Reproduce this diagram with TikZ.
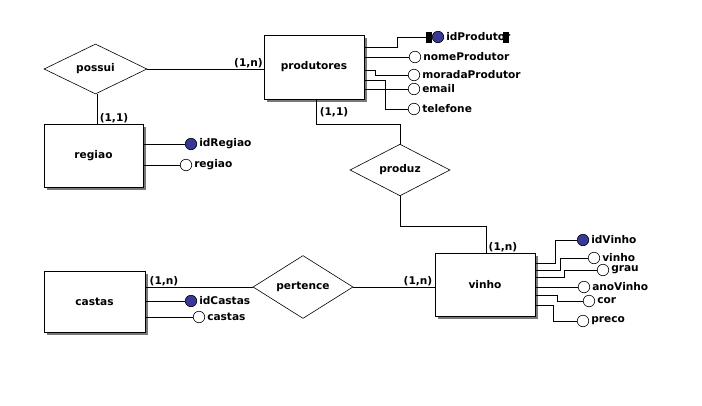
\documentclass[tikz,border=0pt]{standalone}
\usepackage{fontspec}
\setmainfont{DejaVu Sans}
\usetikzlibrary{shapes.geometric,shadows,calc,positioning}
\definecolor{keyblue}{RGB}{56,56,150}
\definecolor{boxshadow}{RGB}{120,120,120}
\begin{document}
\begin{tikzpicture}[x=1pt,y=-1pt,
  every node/.style={font=\bfseries\fontsize{10.6}{12}\selectfont},
  entity/.style={draw, fill=white, line width=0.9pt, inner sep=0,
    drop shadow={shadow xshift=2.5pt, shadow yshift=-2.5pt, fill=boxshadow, opacity=1}},
  rel/.style={draw, shape=diamond, fill=white, line width=0.6pt, inner sep=0},
  attr/.style={circle, draw, fill=white, line width=0.6pt, minimum size=11.5pt, inner sep=0},
  keyattr/.style={attr, fill=keyblue},
  attrtext/.style={anchor=west, inner sep=2pt},
  card/.style={inner sep=0},
  handle/.style={fill=black, draw=none, minimum width=6pt, minimum height=11pt, inner sep=0},
  link/.style={line width=0.7pt}
]
\useasboundingbox (0,0) rectangle (702,405);

% entities
\node[entity, minimum width=100pt, minimum height=64pt] (produtores) at (314,67) {produtores};
\node[entity, minimum width=99pt, minimum height=63pt] (regiao) at (93.5,155.5) {regiao};
\node[entity, minimum width=101pt, minimum height=61pt] (castas) at (94.5,301.5) {castas};
\node[entity, minimum width=100pt, minimum height=63pt] (vinho) at (485,284.5) {vinho};

% relationships
\node[rel, minimum width=103pt, minimum height=50pt] (possui) at (95.5,69) {possui};
\node[rel, minimum width=100pt, minimum height=50pt] (produz) at (400,170) {produz};
\node[rel, minimum width=100pt, minimum height=51pt] (pertence) at (303,287) {pertence};

% relationship links
\draw[link] (possui.east) -- (possui.east -| produtores.west);
\draw[link] ([xshift=1.5pt]possui.south) -- ([xshift=1.5pt]possui.south |- regiao.north);
\draw[link] ($(produtores.south)+(2,0)$) -- ++(0,25) -| (produz.north);
\draw[link] (produz.south) -- ++(0,30) -| ($(vinho.north)+(1,0)$);
\draw[link] (pertence.west -| castas.east) -- (pertence.west);
\draw[link] (pertence.east) -- (pertence.east -| vinho.west);

% cardinalities
\node[card] (c1) at (248.5,63) {(1,n)};
\node[card] (c2) at (114,118) {(1,1)};
\node[card] (c3) at (334,112) {(1,1)};
\node[card] (c4) at (503,247) {(1,n)};
\node[card] (c5) at (164,281) {(1,n)};
\node[card] (c6) at (418,281) {(1,n)};

% produtores attributes
\node[handle] (hl) at (429,37) {};
\node[handle] (hr) at (506,37) {};
\node[keyattr] (idp) at (438,37) {};
\node[attr] (nome) at (415,57) {};
\node[attr] (morada) at (414,75) {};
\node[attr] (email) at (414,89) {};
\node[attr] (tel) at (414,109) {};
\node[attrtext] (tidp) at (idp.east) {idProdutor};
\node[attrtext] (tnome) at (nome.east) {nomeProdutor};
\node[attrtext] (tmorada) at (morada.east) {moradaProdutor};
\node[attrtext] (temail) at (email.east) {email};
\node[attrtext] (ttel) at (tel.east) {telefone};
\node[handle] at (hr) {};
\draw[link] ($(produtores.east)+(0,-20)$) -- ++(33,0) |- (hl.west);
\draw[link] ($(produtores.east)+(0,-10)$) -- (nome);
\draw[link] ($(produtores.east)+(0,3)$) -- ++(11,0) |- (morada);
\draw[link] ($(produtores.east)+(0,22)$) -- (email);
\draw[link] ($(produtores.east)+(0,13)$) -- ++(21,0) |- (tel);

% regiao attributes
\node[keyattr] (idr) at (191,144) {};
\node[attr] (rg) at (186,165) {};
\node[attrtext] (tidr) at (idr.east) {idRegiao};
\node[attrtext] (trg) at (rg.east) {regiao};
\draw[link] (idr -| regiao.east) -- (idr);
\draw[link] (rg -| regiao.east) -- (rg);

% castas attributes
\node[keyattr] (idc) at (191,301) {};
\node[attr] (cs) at (199,317) {};
\node[attrtext] (tidc) at (idc.east) {idCastas};
\node[attrtext] (tcs) at (cs.east) {castas};
\draw[link] (idc -| castas.east) -- (idc);
\draw[link] (cs -| castas.east) -- (cs);

% vinho attributes
\node[keyattr] (idv) at (583,240) {};
\node[attr] (vn) at (594,258) {};
\node[attr] (gr) at (603,270) {};
\node[attr] (ano) at (584,287) {};
\node[attr] (cor) at (589,301) {};
\node[attr] (pr) at (583,321) {};
\node[attrtext] (tidv) at (idv.east) {idVinho};
\node[attrtext] (tvn) at (vn.east) {vinho};
\node[attrtext] (tgr) at (gr.east) {grau};
\node[attrtext] (tano) at (ano.east) {anoVinho};
\node[attrtext] (tcor) at (cor.east) {cor};
\node[attrtext] (tpr) at (pr.east) {preco};
\draw[link] ($(vinho.east)+(0,-21.5)$) -- ++(20,0) |- (idv);
\draw[link] ($(vinho.east)+(0,-14.5)$) -- ++(25,0) |- (vn);
\draw[link] ($(vinho.east)+(0,-7.5)$) -- ++(29,0) |- (gr);
\draw[link] ($(vinho.east)+(0,2.5)$) -- (ano);
\draw[link] ($(vinho.east)+(0,10.5)$) -- ++(22,0) |- (cor);
\draw[link] ($(vinho.east)+(0,20.5)$) -- ++(18,0) |- (pr);
\end{tikzpicture}
\end{document}
